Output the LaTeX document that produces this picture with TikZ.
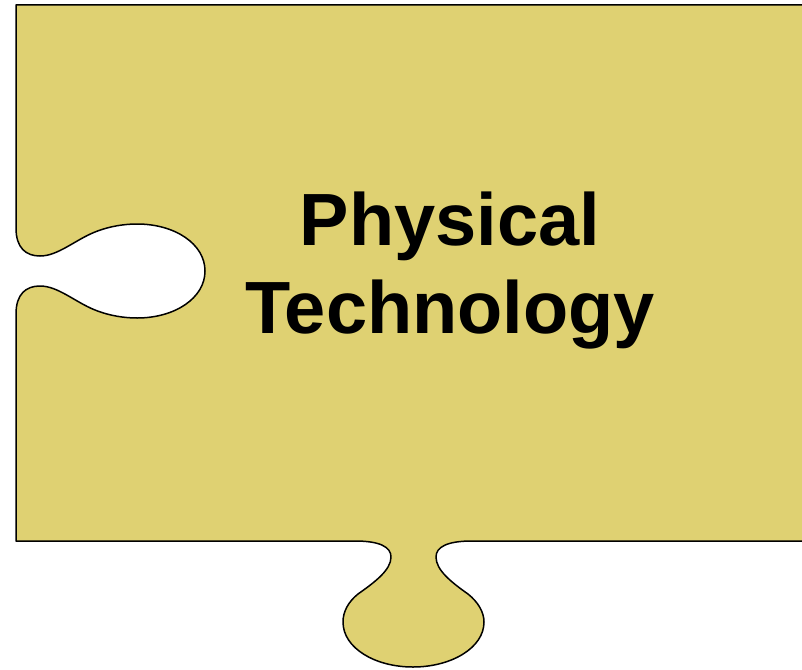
\documentclass[tikz,border=0pt]{standalone}
\usepackage{fontspec}
\setmainfont{Liberation Sans}
\usepackage{xcolor}
\usepackage{tikz}
\usetikzlibrary{positioning}

\definecolor{piecegold}{RGB}{223,209,114}

\begin{document}
\begin{tikzpicture}[x=1pt, y=-1pt,
	piece/.style={draw=black, line width=1.5pt, fill=piecegold, line join=round},
	word/.style={anchor=base, inner sep=0pt, font=\fontsize{74}{88}\selectfont\bfseries}]
	
	\useasboundingbox (0,0) rectangle (802,669);
	\clip (0,0) rectangle (802,669);
	
	%// outline of the piece, right side runs off the page
	\draw[piece] (830,5) -- (16,5) -- (16,228)
	.. controls (16,248) and (26,256) .. (40,256)
	.. controls (58,256) and (75,240) .. (95,232)
	.. controls (110,226) and (125,224) .. (137,224)
	.. controls (175,224) and (205,244) .. (205,271)
	.. controls (205,298) and (175,318) .. (137,318)
	.. controls (125,318) and (110,316) .. (95,310)
	.. controls (75,302) and (58,286) .. (40,286)
	.. controls (26,286) and (16,294) .. (16,314)
	-- (16,541) -- (355,541)
	.. controls (380,541) and (391,547) .. (391,557)
	.. controls (391,570) and (375,582) .. (358,594)
	.. controls (348,602) and (343,612) .. (343,622)
	.. controls (343,648) and (375,667) .. (413,667)
	.. controls (451,667) and (484,648) .. (484,622)
	.. controls (484,612) and (478,602) .. (468,594)
	.. controls (451,582) and (436,570) .. (436,557)
	.. controls (436,547) and (447,541) .. (472,541)
	-- (830,541) -- cycle;
	
	\node[word] (physical) at (450,245) {Physical};
	\node[word] (technology) at (450,333) {Technology};
\end{tikzpicture}
\end{document}
